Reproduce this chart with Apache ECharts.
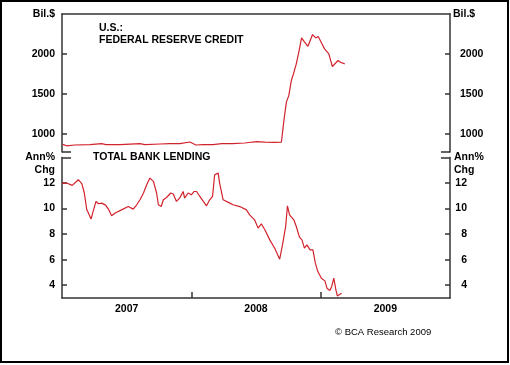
<!DOCTYPE html>
<html>
<head>
<meta charset="utf-8">
<script src="https://cdn.jsdelivr.net/npm/echarts@6/dist/echarts.min.js"></script>
<style>
html,body{margin:0;padding:0;background:#fff;}
#chart{width:510px;height:365px;}
</style>
</head>
<body>
<div id="chart"></div>
<script>
// ---- data ----
var fedDates = ['2007-01-03','2007-01-14','2007-02-06','2007-03-21','2007-04-23','2007-05-05','2007-06-14','2007-08-09','2007-08-23','2007-10-05','2007-11-02','2007-11-30','2007-12-28','2008-01-14','2008-02-03','2008-03-02','2008-03-27','2008-04-27','2008-05-31','2008-06-23','2008-07-04','2008-07-27','2008-08-24','2008-09-12','2008-09-19','2008-09-26','2008-10-03','2008-10-10','2008-10-16','2008-10-24','2008-11-01','2008-11-08','2008-11-15','2008-11-26','2008-12-09','2008-12-18','2008-12-25','2009-01-01','2009-01-12','2009-01-24','2009-02-03','2009-02-07','2009-02-19','2009-02-26','2009-03-10'];
var fedValues = [866,848,858,862,875,862,862,875,862,870,875,875,895,858,863,863,875,875,883,895,900,895,891,895,1167,1395,1480,1667,1750,1875,2042,2200,2158,2095,2242,2200,2217,2158,2063,2000,1842,1833,1917,1895,1875];

var lendDates = ['2007-01-01','2007-01-14','2007-01-30','2007-02-16','2007-02-26','2007-03-05','2007-03-12','2007-03-16','2007-03-19','2007-03-24','2007-03-31','2007-04-07','2007-04-14','2007-04-23','2007-05-04','2007-05-12','2007-05-21','2007-05-31','2007-06-18','2007-07-07','2007-07-21','2007-07-31','2007-08-09','2007-08-19','2007-08-28','2007-09-06','2007-09-16','2007-09-21','2007-09-25','2007-09-30','2007-10-08','2007-10-14','2007-10-23','2007-11-04','2007-11-11','2007-11-20','2007-11-29','2007-12-09','2007-12-13','2007-12-23','2008-01-01','2008-01-09','2008-01-16','2008-01-25','2008-02-13','2008-02-22','2008-03-01','2008-03-07','2008-03-17','2008-03-21','2008-03-31','2008-04-19','2008-04-28','2008-05-17','2008-06-05','2008-06-14','2008-06-28','2008-07-08','2008-07-17','2008-07-27','2008-08-10','2008-08-24','2008-09-07','2008-09-15','2008-09-19','2008-09-24','2008-09-29','2008-10-05','2008-10-17','2008-10-24','2008-11-02','2008-11-09','2008-11-16','2008-11-23','2008-12-02','2008-12-10','2008-12-17','2008-12-24','2009-01-03','2009-01-13','2009-01-19','2009-01-27','2009-02-01','2009-02-07','2009-02-13','2009-02-17','2009-02-22','2009-03-01'];
var lendValues = [12.0,12.0,11.82,12.26,11.95,11.22,9.9,9.7,9.5,9.18,9.9,10.56,10.38,10.43,10.27,9.96,9.44,9.65,9.9,10.16,9.96,10.3,10.69,11.22,11.87,12.39,12.13,12.05,11.22,10.3,10.16,10.69,10.87,11.22,11.14,10.56,10.82,11.34,10.82,11.22,11.08,11.34,11.34,10.95,10.22,10.69,10.95,12.65,12.78,12.0,10.69,10.43,10.3,10.16,9.9,9.51,9.12,8.47,8.81,8.34,7.55,6.9,6.04,7.16,7.29,8.6,10.22,9.51,9.12,8.6,7.76,7.55,6.9,7.16,6.77,6.77,5.73,5.07,4.55,4.34,3.76,3.58,3.89,4.55,3.63,3.16,3.22,3.37];

var fedTicks = [1000, 1500, 2000];
var lendTicks = [4, 6, 8, 10, 12];
var yearLabels = ['2007', '2008', '2009'];
var yearBoundaries = ['2008', '2009'];

// ---- build ----
// date string -> fractional year (for a value x axis)
function yearFrac(s) {
  var p = s.split('-');
  var y = +p[0];
  var start = Date.UTC(y, 0, 1), end = Date.UTC(y + 1, 0, 1);
  return y + (Date.UTC(y, +p[1] - 1, +p[2]) - start) / (end - start);
}
function zip(d, v) { return d.map(function (x, i) { return [yearFrac(x), v[i]]; }); }
var xMin = +yearLabels[0];
var xMax = +yearLabels[yearLabels.length - 1] + 1;
var tickVals = yearBoundaries.map(function (y) { return +y; });
var labelVals = yearLabels.map(function (y) { return +y + 0.5; });

var FONT = 'Liberation Sans';
var FS = 10.5;
var AX = '#333';
var RED = '#d2232c';

function txt(text, pos, extra) {
  var t = {
    text: text, padding: 0,
    textStyle: Object.assign({ fontFamily: FONT, fontSize: FS, fontWeight: 'bold', color: '#000', lineHeight: 13 }, extra || {})
  };
  return Object.assign(t, pos);
}

function plain(v) { return String(v); }

function yAx(grid, pos, min, max, ticks, labelOpt) {
  return {
    type: 'value', gridIndex: grid, position: pos, min: min, max: max,
    axisLine: { show: true, lineStyle: { color: AX, width: 1.5 } },
    axisTick: { show: true, inside: true, length: 5, customValues: ticks, lineStyle: { color: AX, width: 1.5 } },
    axisLabel: Object.assign({ show: true, customValues: ticks, formatter: plain, fontFamily: FONT, fontSize: FS, fontWeight: 'bold', color: '#000' }, labelOpt),
    splitLine: { show: false }
  };
}
function endAx(grid, pos, min, max, v) {
  return {
    type: 'value', gridIndex: grid, position: pos, min: min, max: max,
    axisLine: { show: false },
    axisTick: { show: true, inside: true, length: 9, customValues: [v], lineStyle: { color: AX, width: 1.5 } },
    axisLabel: { show: false },
    splitLine: { show: false }
  };
}

var chart = echarts.init(document.getElementById('chart'), null, { renderer: 'canvas' });
chart.setOption({
  animation: false,
  backgroundColor: '#fff',
  title: [
    txt('Bil.$', { right: 455, top: 7.5 }),
    txt('Bil.$', { left: 453, top: 7.5 }),
    txt('U.S.:', { left: 99, top: 21.5 }),
    txt('FEDERAL RESERVE CREDIT', { left: 99, top: 34 }),
    txt('TOTAL BANK LENDING', { left: 93, top: 151 }),
    txt('Ann%', { right: 455, top: 151 }),
    txt('Chg', { right: 455, top: 164 }),
    txt('Ann%', { left: 454, top: 151 }),
    txt('Chg', { left: 454, top: 164 }),
    txt('\u00a9 BCA Research 2009', { left: 335, top: 326 }, { fontWeight: 'normal', fontSize: 9.5, lineHeight: 12 })
  ],
  graphic: [{
    type: 'rect', shape: { x: 1, y: 1, width: 507, height: 361 },
    style: { fill: 'none', stroke: '#000', lineWidth: 2 }, silent: true
  }],
  grid: [
    { left: 62, right: 60, top: 14, height: 138, outerBoundsMode: 'none', containLabel: false },
    { left: 62, right: 60, top: 157.5, bottom: 67, outerBoundsMode: 'none', containLabel: false }
  ],
  xAxis: [
    {
      type: 'value', gridIndex: 0, position: 'top', min: xMin, max: xMax,
      axisLine: { show: true, lineStyle: { color: AX, width: 1.5 } },
      axisTick: { show: false }, axisLabel: { show: false }, splitLine: { show: false }
    },
    {
      type: 'value', gridIndex: 1, position: 'bottom', min: xMin, max: xMax,
      axisLine: { show: true, lineStyle: { color: AX, width: 1.5 } },
      axisTick: { show: true, inside: true, length: 6, customValues: tickVals, lineStyle: { color: AX, width: 1.5 } },
      axisLabel: {
        show: true, customValues: labelVals, margin: 6,
        fontFamily: FONT, fontSize: FS, fontWeight: 'bold', color: '#000',
        formatter: function (v) { return String(Math.floor(v)); }
      },
      splitLine: { show: false }
    }
  ],
  yAxis: [
    yAx(0, 'left', 770, 2500, fedTicks, { margin: 7 }),
    yAx(0, 'right', 770, 2500, fedTicks, { margin: 10 }),
    yAx(1, 'left', 3, 14, lendTicks, { margin: 7 }),
    yAx(1, 'right', 3, 14, lendTicks, { margin: 17, align: 'right' }),
    endAx(0, 'left', 770, 2500, 770),
    endAx(0, 'right', 770, 2500, 770),
    endAx(1, 'left', 3, 14, 14),
    endAx(1, 'right', 3, 14, 14)
  ],
  series: [
    {
      type: 'line', xAxisIndex: 0, yAxisIndex: 0, data: zip(fedDates, fedValues),
      showSymbol: false, symbol: 'none', lineStyle: { color: RED, width: 1.2 }, itemStyle: { color: RED }
    },
    {
      type: 'line', xAxisIndex: 1, yAxisIndex: 2, data: zip(lendDates, lendValues),
      showSymbol: false, symbol: 'none', lineStyle: { color: RED, width: 1.2 }, itemStyle: { color: RED }
    }
  ]
});
</script>
</body>
</html>
